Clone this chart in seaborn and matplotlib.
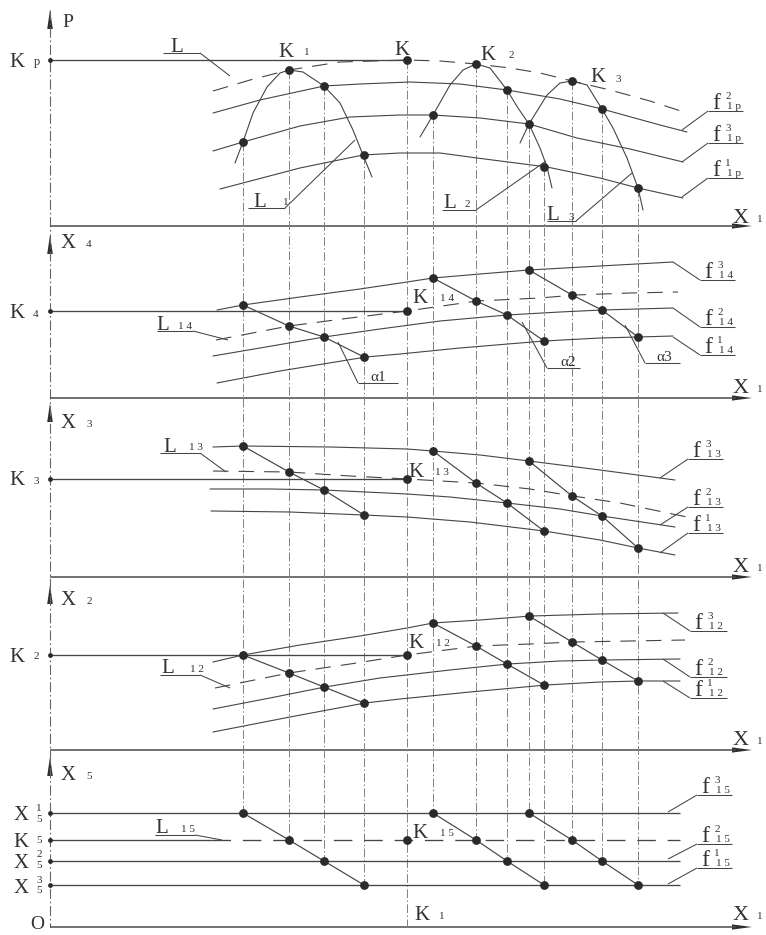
import matplotlib
matplotlib.use("Agg")
import matplotlib.pyplot as plt
import seaborn as sns

# ------------------------------------------------------------------ data
# projection columns (x) shared by all panels
COL_X = [243, 289, 324, 364, 433, 476, 507, 544, 529, 572, 602, 638]
K_X = 407
# level of each column point in each panel
P_Y = [142, 70, 86, 155, 115, 64, 90, 167, 124, 81, 109, 188]
X4_Y = [305, 326, 337, 357, 278, 301, 315, 341, 270, 295, 310, 337]
X3_Y = [446, 472, 490, 515, 451, 483, 503, 531, 461, 496, 516, 548]
X2_Y = [655, 673, 687, 703, 623, 646, 664, 685, 616, 642, 660, 681]
X5_Y = [813, 840, 861, 885, 813, 840, 861, 885, 813, 840, 861, 885]
K_LEVEL = [60, 311, 479, 655, 840]          # K, K14, K13, K12, K15
AXIS_Y = [226, 398, 577, 750, 927]           # X1 axes of the five panels
AXIS_TOP = [10, 235, 403, 585, 757]          # arrow tips of vertical axes

# P panel curves
FP2_X = [213, 260, 324, 360, 410, 460, 507, 560, 602, 660, 687]
FP2_Y = [113, 100, 86, 84, 82, 84, 90, 99, 109, 125, 132]
FP3_X = [213, 243, 300, 350, 400, 433, 480, 529, 577, 630, 683]
FP3_Y = [151, 142, 126, 117, 115, 115, 118, 124, 138, 149, 162]
FP1_X = [220, 300, 363, 400, 440, 477, 547, 600, 638, 683]
FP1_Y = [189, 168, 155, 153, 153, 158, 167, 178, 188, 198]
LP_X = [213, 250, 289, 340, 407, 440, 476, 510, 540, 572, 610, 650, 687]
LP_Y = [91, 80, 70, 62, 60, 61, 64, 68, 73, 81, 90, 101, 113]
L1_X = [235, 243, 253, 267, 280, 289, 303, 315, 324, 340, 353, 363, 372]
L1_Y = [163, 142, 113, 87, 73, 70, 72, 80, 86, 103, 130, 155, 177]
L2_X = [420, 433, 450, 463, 476, 490, 507, 518, 529, 540, 547, 552]
L2_Y = [137, 115, 85, 70, 64, 68, 90, 108, 124, 148, 167, 188]
L3_X = [520, 529, 547, 560, 572, 587, 602, 613, 627, 638, 643]
L3_Y = [143, 124, 95, 83, 81, 85, 109, 128, 158, 188, 210]

# X4 panel curves
F43_X = [217, 243, 300, 360, 407, 433, 480, 529, 600, 673]
F43_Y = [310, 305, 297, 289, 282, 278, 274, 270, 266, 262]
F42_X = [213, 260, 324, 380, 440, 507, 560, 602, 673]
F42_Y = [356, 348, 337, 329, 321, 315, 312, 310, 308]
F41_X = [217, 280, 366, 400, 460, 544, 600, 638, 673]
F41_Y = [383, 371, 357, 354, 348, 341, 338, 337, 336]
L14_X = [216, 289, 350, 407, 477, 540, 575, 630, 678]
L14_Y = [340, 326, 318, 311, 301, 298, 295, 293, 292]

# X3 panel curves
F33_X = [213, 243, 330, 407, 433, 480, 529, 600, 675]
F33_Y = [447, 446, 447, 449, 451, 455, 461, 470, 480]
F32_X = [210, 270, 324, 407, 450, 507, 560, 602, 675]
F32_Y = [489, 489, 490, 494, 497, 503, 509, 516, 527]
F31_X = [211, 290, 364, 407, 470, 544, 600, 638, 675]
F31_Y = [511, 512, 515, 517, 522, 531, 540, 548, 555]
L13_X = [213, 289, 350, 407, 476, 530, 573, 620, 687]
L13_Y = [471, 472, 476, 479, 483, 489, 496, 503, 517]

# X2 panel curves
F23_X = [213, 243, 300, 360, 407, 433, 480, 531, 600, 678]
F23_Y = [662, 655, 645, 636, 628, 623, 620, 616, 614, 613]
F22_X = [213, 270, 325, 380, 450, 508, 560, 604, 680]
F22_Y = [709, 698, 687, 678, 670, 664, 661, 660, 659]
F21_X = [213, 290, 365, 400, 470, 546, 600, 639, 680]
F21_Y = [732, 717, 703, 699, 692, 685, 682, 681, 681]
L12_X = [215, 289, 350, 407, 477, 530, 573, 630, 685]
L12_Y = [688, 673, 664, 655, 646, 644, 642, 641, 640]

# X5 panel levels (X5^1, K5, X5^2, X5^3)
X5_LEVELS = [813, 840, 861, 885]

# ------------------------------------------------------------------ style
sns.set_theme(style="white")
plt.rcParams["font.family"] = ["Liberation Serif", "DejaVu Serif"]
INK = "#333333"
LINE = "#454545"
GUIDE = "#808080"
DASH = (0, (14, 9))
DASHDOT = (0, (9, 2.5, 1.5, 2.5))

fig = plt.figure(figsize=(7.66, 9.35), dpi=100)
ax = fig.add_axes([0, 0, 1, 1])
ax.set_xlim(0, 766)
ax.set_ylim(935, 0)
ax.axis("off")


def curve(x, y, ls="-", lw=0.8, color=LINE):
    sns.lineplot(x=x, y=y, sort=False, estimator=None, ax=ax,
                 color=color, lw=lw, linestyle=ls)


def seg(x0, y0, x1, y1, lw=0.75, color=LINE, ls="-"):
    ax.plot([x0, x1], [y0, y1], color=color, lw=lw, linestyle=ls,
            solid_capstyle="butt")


def t(s, x, y, size=15):
    ax.text(x, y, s, fontsize=size, ha="center", va="baseline", color=INK)


# ------------------------------------------------------------------ axes
seg(50, AXIS_TOP[0], 50, AXIS_Y[-1], lw=0.8, color="#666666", ls=DASHDOT)
for ty in AXIS_TOP:
    ax.fill([50, 47.2, 52.8], [ty, ty + 19, ty + 19], color="#2e2e2e", lw=0)
for ay in AXIS_Y:
    seg(50, ay, 736, ay, lw=1.1, color="#4a4a4a")
    ax.fill([752, 732, 732], [ay, ay - 2.6, ay + 2.6], color="#2e2e2e", lw=0)

# projection lines
for cx, top, bot in zip(COL_X, P_Y, X5_Y):
    seg(cx, top, cx, bot, lw=0.7, color=GUIDE, ls=DASHDOT)
seg(K_X, K_LEVEL[0], K_X, AXIS_Y[-1], lw=0.7, color=GUIDE, ls=DASHDOT)

# K levels from the vertical axis
for ky in K_LEVEL[:4]:
    seg(50, ky, K_X, ky, lw=0.95)

# ------------------------------------------------------------------ P panel
curve(FP2_X, FP2_Y)
curve(FP3_X, FP3_Y)
curve(FP1_X, FP1_Y)
curve(LP_X, LP_Y, ls=DASH)
curve(L1_X, L1_Y)
curve(L2_X, L2_Y)
curve(L3_X, L3_Y)

# ------------------------------------------------------------------ X4, X3, X2 panels
for fx3, fy3, fx2, fy2, fx1, fy1, lx, ly in [
        (F43_X, F43_Y, F42_X, F42_Y, F41_X, F41_Y, L14_X, L14_Y),
        (F33_X, F33_Y, F32_X, F32_Y, F31_X, F31_Y, L13_X, L13_Y),
        (F23_X, F23_Y, F22_X, F22_Y, F21_X, F21_Y, L12_X, L12_Y)]:
    curve(fx3, fy3)
    curve(fx2, fy2)
    curve(fx1, fy1)
    curve(lx, ly, ls=DASH)

# ------------------------------------------------------------------ X5 panel
for i, lv in enumerate(X5_LEVELS):
    if i == 1:
        seg(50, lv, 212, lv, lw=0.95)
        seg(212, lv, 680, lv, lw=0.95, ls=DASH)
    else:
        seg(50, lv, 680, lv, lw=0.95)

# diagonals through the four points of each group
for ys in (X4_Y, X3_Y, X2_Y, X5_Y):
    for g in range(3):
        curve(COL_X[4 * g:4 * g + 4], ys[4 * g:4 * g + 4], lw=0.85)

# points
for ys, ky in zip((P_Y, X4_Y, X3_Y, X2_Y, X5_Y), K_LEVEL):
    sns.scatterplot(x=COL_X + [K_X], y=ys + [ky], s=40, color="#2a2a2a",
                    linewidth=0, ax=ax, zorder=6)
sns.scatterplot(x=[50] * 8, y=[60, 311, 479, 655] + X5_LEVELS, s=12,
                color="#2a2a2a", linewidth=0, ax=ax, zorder=6)

# ------------------------------------------------------------------ labels
# vertical axis titles
t("P", 68, 27, 14)
for s, yb in [("4", 248), ("3", 428), ("2", 605), ("5", 780)]:
    t("X", 68, yb, 15)
    t(s, 89, yb - 1, 8)
# left level labels
t("K", 17, 67, 15); t("p", 37, 65, 9)
t("K", 17, 318, 15); t("4", 36, 317, 8)
t("K", 17, 485, 15); t("3", 36, 484, 8)
t("K", 17, 662, 15); t("2", 36, 659, 8)
t("X", 21, 820, 15); t("1", 39, 811, 8); t("5", 39, 822, 8)
t("K", 21, 847, 15); t("5", 39, 843, 8)
t("X", 21, 868, 15); t("2", 39, 857, 8); t("5", 39, 868, 8)
t("X", 21, 893, 15); t("3", 39, 883, 8); t("5", 39, 893, 8)
t("O", 37, 929, 14)
# X1 at the right end of every axis
for yb in (223, 393, 572, 745, 920):
    t("X", 741, yb, 16)
    t("1", 760, yb - 1, 8)

# P panel labels
t("L", 177, 52, 15)
seg(163, 53, 200, 53); seg(200, 53, 230, 76)
t("K", 286, 57, 15); t("1", 307, 55, 8)
t("K", 402, 55, 15)
t("K", 488, 60, 15); t("2", 511, 58, 8)
t("K", 598, 82, 15); t("3", 618, 82, 8)
t("L", 260, 207, 15); t("1", 286, 205, 8)
seg(248, 208, 285, 208); seg(285, 208, 355, 140)
t("L", 450, 208, 15); t("2", 467, 207, 8)
seg(442, 210, 476, 210); seg(476, 210, 546, 161)
t("L", 553, 220, 15); t("3", 571, 220, 8)
seg(547, 221, 576, 221); seg(576, 221, 632, 173)


def flabel(x, ul, sup, sub, x0, y0, w=35):
    t("f", x + 8, ul - 2, 17)
    t(sup, x + 20, ul - 12, 8)
    t(sub, x + 26, ul - 2, 8)
    seg(x, ul, x + w, ul)
    seg(x0, y0, x, ul)


flabel(708, 111, "2", "1 p", 682, 130)
flabel(708, 143, "3", "1 p", 682, 162)
flabel(708, 178, "1", "1 p", 682, 197)

# X4 panel labels
t("L", 163, 330, 15); t("1 4", 185, 329, 8)
seg(157, 331, 193, 331); seg(193, 331, 228, 340)
t("K", 420, 303, 15); t("1 4", 447, 301, 8)
t("α1", 378, 381, 11); seg(358, 383, 398, 383); seg(338, 342, 358, 383)
t("α2", 568, 366, 11); seg(547, 368, 580, 368); seg(522, 322, 547, 368)
t("α3", 664, 361, 11); seg(645, 363, 680, 363); seg(625, 325, 645, 363)
flabel(700, 280, "3", "1 4", 673, 262)
flabel(700, 327, "2", "1 4", 673, 308)
flabel(700, 355, "1", "1 4", 673, 337)

# X3 panel labels
t("L", 170, 452, 15); t("1 3", 196, 450, 8)
seg(160, 453, 200, 453); seg(200, 453, 226, 472)
t("K", 416, 477, 15); t("1 3", 442, 475, 8)
flabel(688, 459, "3", "1 3", 660, 478)
flabel(688, 507, "2", "1 3", 660, 525)
flabel(688, 533, "1", "1 3", 660, 553)

# X2 panel labels
t("L", 168, 673, 15); t("1 2", 197, 672, 8)
seg(160, 675, 200, 675); seg(200, 675, 230, 688)
t("K", 416, 648, 15); t("1 2", 443, 646, 8)
flabel(690, 631, "3", "1 2", 663, 613, 37)
flabel(690, 677, "2", "1 2", 663, 659, 37)
flabel(690, 698, "1", "1 2", 663, 681, 37)

# X5 panel labels
t("L", 162, 833, 15); t("1 5", 188, 832, 8)
seg(155, 835, 195, 835); seg(195, 835, 222, 840)
t("K", 420, 838, 15); t("1 5", 447, 836, 8)
t("K", 422, 920, 15); t("1", 442, 919, 8)
flabel(697, 795, "3", "1 5", 668, 812)
flabel(697, 844, "2", "1 5", 668, 859)
flabel(697, 868, "1", "1 5", 668, 884)

fig.savefig("out.png", dpi=100, facecolor="white")
